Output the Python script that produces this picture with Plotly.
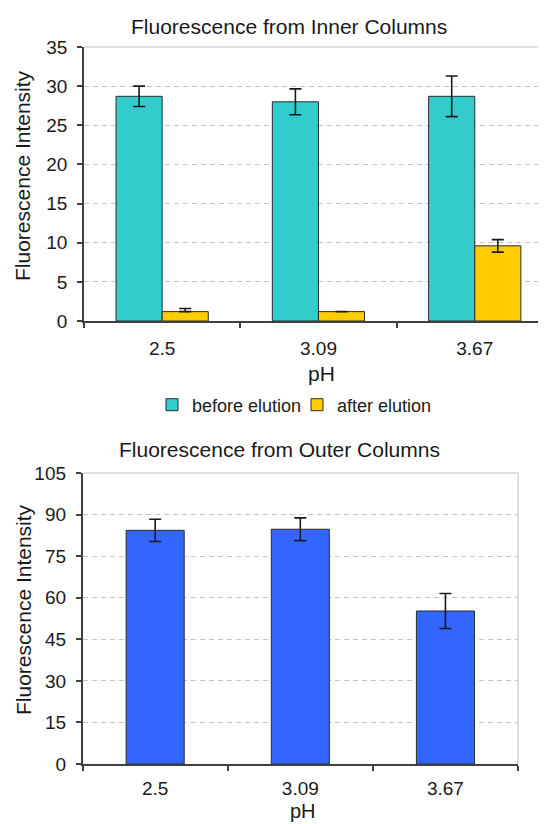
import plotly.graph_objects as go

# ---- data ----
ph_labels = ["2.5", "3.09", "3.67"]

inner_before = [28.7, 28.0, 28.7]
inner_before_err = [1.3, 1.65, 2.6]
inner_after = [1.2, 1.2, 9.6]
inner_after_err_plus = [0.4, 0.0, 0.8]
inner_after_err_minus = [0.0, 0.0, 0.8]

outer = [84.3, 84.7, 55.2]
outer_err = [4.0, 4.1, 6.3]

inner_ticks = [0, 5, 10, 15, 20, 25, 30, 35]
outer_ticks = [0, 15, 30, 45, 60, 75, 90, 105]

FONT = "Arial, Liberation Sans, sans-serif"
# page body has an 8px margin, so the figure is 8px smaller than the window
OFF = 8
W, H = 546 - OFF, 824 - OFF
AX = "#404040"
GRID = "#c4c4c4"
BORDER = "#d4d4d4"
TXT = "#1a1a1a"


def px_x(p):
    return (p - OFF) / W


def px_y(p):
    return 1 - (p - OFF) / H


fig = go.Figure()

err_style = dict(type="data", color=TXT, thickness=1.6, width=6, visible=True)
edge = dict(color="#2a2a2a", width=1)

fig.add_trace(go.Bar(
    x=ph_labels, y=inner_before, name="before elution",
    marker=dict(color="#33CCCC", line=edge),
    error_y=dict(array=inner_before_err, **err_style),
    xaxis="x", yaxis="y",
))
fig.add_trace(go.Bar(
    x=ph_labels, y=inner_after, name="after elution",
    marker=dict(color="#FFCC00", line=edge),
    error_y=dict(array=inner_after_err_plus, arrayminus=inner_after_err_minus,
                 symmetric=False, **err_style),
    xaxis="x", yaxis="y",
))
fig.add_trace(go.Bar(
    x=ph_labels, y=outer, name="outer", showlegend=False, width=0.4,
    marker=dict(color="#3366FF", line=edge),
    error_y=dict(array=outer_err, **err_style),
    xaxis="x2", yaxis="y2",
))

axis_common = dict(
    showline=True, linecolor=AX, linewidth=1.5,
    ticks="outside", tickcolor=AX, ticklen=5, tickwidth=1.5,
    tickfont=dict(family=FONT, size=19, color=TXT),
    zeroline=False, automargin=False,
)

# top chart: plot area runs past the right edge of the picture
top_left = 84
top_cat_w = 156.3
top_x = (px_x(top_left), 1.0)
top_range = [-0.5, -0.5 + (546 - top_left) / top_cat_w]
top_y = (px_y(321), px_y(47))
bot_x = (px_x(82.6), px_x(518))
bot_y = (px_y(764), px_y(473))

fig.update_layout(
    width=W, height=H,
    margin=dict(l=0, r=0, t=0, b=0, pad=0, autoexpand=False),
    paper_bgcolor="white", plot_bgcolor="white",
    barmode="group", bargap=0.41, bargroupgap=0,
    font=dict(family=FONT, color=TXT),
    xaxis=dict(domain=top_x, anchor="y", type="category", tickson="boundaries",
               range=top_range, showgrid=False, ticklabelstandoff=9, **axis_common),
    yaxis=dict(domain=top_y, anchor="x", range=[0, 35], tickvals=inner_ticks,
               showgrid=True, gridcolor=GRID, griddash="5px,4px", gridwidth=1,
               ticklabelstandoff=6, **axis_common),
    xaxis2=dict(domain=bot_x, anchor="y2", type="category", tickson="boundaries",
                showgrid=False, ticklabelstandoff=6, **axis_common),
    yaxis2=dict(domain=bot_y, anchor="x2", range=[0, 105], tickvals=outer_ticks,
                showgrid=True, gridcolor=GRID, griddash="5px,4px", gridwidth=1,
                ticklabelstandoff=6, **axis_common),
    legend=dict(orientation="h", x=px_x(297), xanchor="center", y=px_y(405), yanchor="middle",
                font=dict(family=FONT, size=18, color=TXT),
                itemwidth=30, entrywidth=100, entrywidthmode="pixels",
                tracegroupgap=0, bgcolor="rgba(0,0,0,0)"),
    showlegend=True,
)

# plot-area borders (top / right) in light gray
fig.add_shape(type="line", xref="x domain", yref="y domain", x0=0, x1=1, y0=1, y1=1,
              line=dict(color=BORDER, width=1.5))
fig.add_shape(type="line", xref="x2 domain", yref="y2 domain", x0=0, x1=1, y0=1, y1=1,
              line=dict(color=BORDER, width=1.5))
fig.add_shape(type="line", xref="x2 domain", yref="y2 domain", x0=1, x1=1, y0=0, y1=1,
              line=dict(color=BORDER, width=1.5))

ann = [
    ("Fluorescence from Inner Columns", 289, 26, 21, 0, "middle"),
    ("pH", 321, 373, 21, 0, "middle"),
    ("Fluorescence Intensity", 23, 176, 21, -90, "middle"),
    ("Fluorescence from Outer Columns", 279, 450, 21, 0, "middle"),
    ("pH", 303, 824, 20, 0, "bottom"),
    ("Fluorescence Intensity", 23, 610, 21, -90, "middle"),
]
for text, x, y, size, ang, ya in ann:
    fig.add_annotation(text=text, x=px_x(x), y=px_y(y), xref="paper", yref="paper",
                       xanchor="center", yanchor=ya, showarrow=False,
                       textangle=ang, font=dict(family=FONT, size=size, color=TXT))

fig.write_html("out.html")
